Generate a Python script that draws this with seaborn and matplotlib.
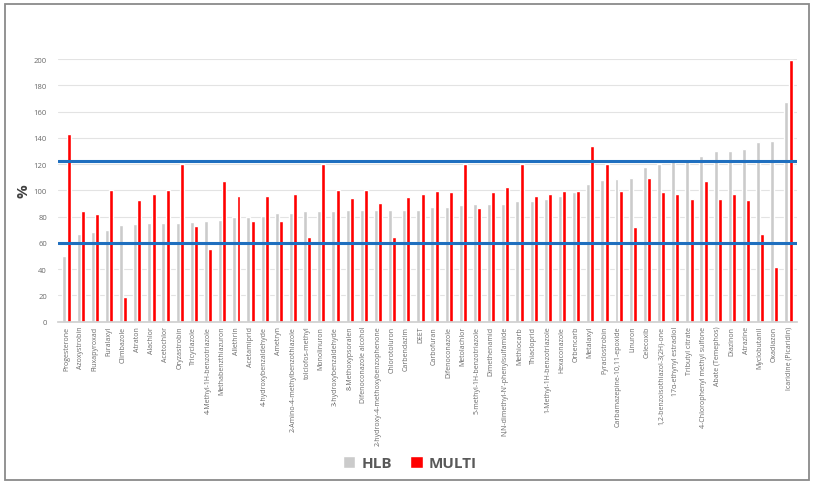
import matplotlib
matplotlib.use("Agg")
import matplotlib.pyplot as plt
import seaborn as sns
import pandas as pd
from matplotlib.patches import Rectangle, Patch

compounds = [
    "Progesterone", "Azoxystrobin", "Fluxapyroxad", "Furalaxyl", "Climbazole",
    "Atraton", "Alachlor", "Acetochlor", "Oryzastrobin", "Tricyclazole",
    "4-Methyl-1H-benzotriazole", "Methabenzthiazuron", "Allethrin", "Acetamiprid",
    "4-hydroxybenzaldehyde", "Ametryn", "2-Amino-4-methylbenzothiazole",
    "tolclofos-methyl", "Monolinuron", "3-hydroxybenzaldehyde", "8-Methoxypsoralen",
    "Difenoconazole alcohol", "2-hydroxy-4-methoxybenzophenone", "Chlorotoluron",
    "Carbendazim", "DEET", "Carbofuran", "Difenoconazole", "Metolachlor",
    "5-methyl-1H-benzotriazole", "Dimethenamid", "N,N-dimethyl-N'-phenylsulfamide",
    "Methiocarb", "Thiacloprid", "1-Methyl-1H-benzotriazole", "Hexaconazole",
    "Orbencarb", "Metalaxyl", "Pyraclostrobin", "Carbamazepine-10,11-epoxide",
    "Linuron", "Celecoxib", "1,2-benzoisothiazol-3(2H)-one", "17α-ethynyl estradiol",
    "Tributyl citrate", "4-Chlorophenyl methyl sulfone", "Abate (Temephos)",
    "Diazinon", "Atrazine", "Myclobutanil", "Oxadiazon", "Icaridine (Picaridin)",
]
hlb = [50, 67, 68, 70, 74, 74.5, 75.5, 75.5, 75.5, 75.6, 76.6, 77.7, 80, 80, 80.5, 83,
       83, 84, 84, 84, 85, 85, 85, 85, 85.3, 85.3, 87.6, 87.6, 88.6, 89.6, 89.6, 89.6,
       91.6, 91.6, 93.6, 95.7, 98.5, 104.8, 108, 108.4, 109.4, 117.8, 119.8, 123.4,
       123.4, 125.9, 129.7, 129.7, 131.7, 136.5, 137.6, 167.3]
multi = [143, 84, 82, 100, 18.5, 93, 97, 100, 120, 73, 55, 107, 96, 77, 96, 77,
         97.5, 64.5, 120, 100.5, 94, 100.5, 90.6, 64.5, 95, 97.5, 99.5, 98.5, 120, 86.3,
         98.5, 102.8, 120, 96, 97.5, 99.5, 99.5, 133.5, 120, 99.5, 71.8, 109.4, 98.5,
         97.5, 93.7, 106.9, 93.7, 97, 92.6, 66.8, 41.6, 199.5]
limits = [122, 60]
yticks = list(range(0, 201, 20))

df = pd.DataFrame({
    "Compound": compounds * 2,
    "Recovery": hlb + multi,
    "Method": ["HLB"] * len(compounds) + ["MULTI"] * len(compounds),
})

sns.set_theme(style="white")
plt.rcParams["font.family"] = ["Open Sans", "DejaVu Sans"]

fig = plt.figure(figsize=(8.18, 4.89), dpi=100)
ax = fig.add_axes([58 / 818, 1 - 322.7 / 489, (797 - 58) / 818, (322.7 - 60) / 489])

palette = {"HLB": "#CBCBCB", "MULTI": "#FF0000"}
sns.barplot(data=df, x="Compound", y="Recovery", hue="Method", palette=palette,
            width=0.6, gap=0.06, ax=ax, legend=False, saturation=1)

for v in limits:
    ax.axhline(v, color="#1F6FBF", lw=2.2, zorder=5)

ax.set_ylim(0, 200)
ax.set_xlim(-0.6, len(compounds) - 0.4)
ax.set_yticks(yticks)
ax.yaxis.grid(True, color="#E3E3E3", lw=0.8)
ax.set_axisbelow(True)
for s in ["top", "right", "left"]:
    ax.spines[s].set_visible(False)
ax.spines["bottom"].set_color("#D0D0D0")
ax.tick_params(axis="y", labelsize=5.5, labelcolor="#6A6A6A", length=0, pad=8)
ax.tick_params(axis="x", labelsize=5, labelcolor="#6A6A6A", length=0, pad=3)
ax.set_xticks(range(len(compounds)))
ax.set_xticklabels(compounds, rotation=90)
ax.set_xlabel("")
ax.set_ylabel("%", fontsize=11, fontweight="bold", color="#404040", labelpad=2)

handles = [Patch(facecolor=palette["HLB"], label="HLB"),
           Patch(facecolor=palette["MULTI"], label="MULTI")]
fig.legend(handles=handles, loc="center", bbox_to_anchor=(410 / 818, 1 - 464 / 489),
           ncol=2, frameon=False, prop={"size": 11, "weight": "bold"},
           labelcolor="#595959", handlelength=0.8, handleheight=0.8,
           handletextpad=0.4, columnspacing=1.2)

fig.patches.append(Rectangle((4.5 / 818, 1 - 481 / 489), (809 - 4.5) / 818, (481 - 5) / 489,
                             transform=fig.transFigure, fill=False,
                             edgecolor="#8A8A8A", lw=1.3))

fig.savefig("out.png", dpi=100)
